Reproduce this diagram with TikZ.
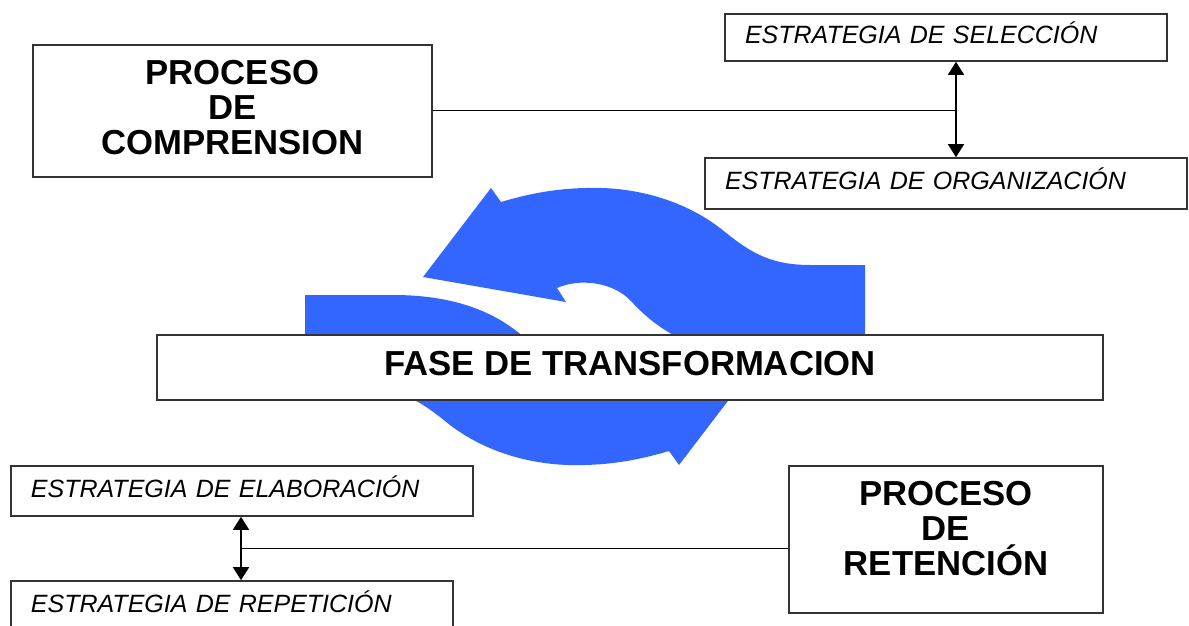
\documentclass[tikz,border=0pt]{standalone}
\usepackage{fontspec}
\setmainfont{Liberation Sans}
\usetikzlibrary{arrows.meta, positioning}
\definecolor{cycleblue}{HTML}{3366FF}

\tikzset{
  procbox/.style={draw=black!80, line width=0.8pt, fill=white, align=center,
    font=\bfseries\fontsize{17.35}{17.5}\selectfont},
  stratbox/.style={draw=black!80, line width=0.8pt, fill=white, align=left,
    inner xsep=10pt, text height=9pt, text depth=3pt,
    font=\itshape\fontsize{12.5}{15}\selectfont},
  link/.style={line width=0.5pt},
  twoway/.style={line width=0.8pt, {Triangle[length=6.5pt,width=8pt]}-{Triangle[length=6.5pt,width=8pt]}}
}

\begin{document}
\begin{tikzpicture}[x=0.5pt, y=-0.5pt]
                \useasboundingbox (0,0) rectangle (1189,626);
                % Cycle arrows
                \fill[cycleblue] (865,265) -- (810,265)
                  .. controls (770,265) and (750,252) .. (725,232)
                  .. controls (690,203) and (640,186) .. (585,188)
                  .. controls (550,189) and (525,195) .. (501,202)
                  -- (491,188) -- (423,277) -- (566,302) -- (557,288)
                  .. controls (580,278) and (612,282) .. (630,300)
                  .. controls (652,324) and (690,358) .. (777,358)
                  -- (865,358) -- cycle;
                \fill[cycleblue, rotate around={180:(585,326.5)}] (865,265) -- (810,265)
                  .. controls (770,265) and (750,252) .. (725,232)
                  .. controls (690,203) and (640,186) .. (585,188)
                  .. controls (550,189) and (525,195) .. (501,202)
                  -- (491,188) -- (423,277) -- (566,302) -- (557,288)
                  .. controls (580,278) and (612,282) .. (630,300)
                  .. controls (652,324) and (690,358) .. (777,358)
                  -- (865,358) -- cycle;
                % Processes
                \node[procbox, minimum width=199.5pt, minimum height=66pt, text depth=4pt]
                  (comp) at (232.5,111) {PROCESO\\DE\\COMPRENSION};
                \node[procbox, minimum width=157pt, minimum height=73.5pt, text depth=11pt]
                  (ret) at (946,539.5) {PROCESO\\DE\\RETENCIÓN};
                \node[procbox, minimum width=473pt, minimum height=32.5pt, text depth=4pt]
                  (fase) at (630,367.5) {FASE DE TRANSFORMACION};
                % Strategies
                \node[stratbox, text width=201pt, minimum height=23.5pt]
                  (sel) at (946,37.5) {ESTRATEGIA DE SELECCIÓN};
                \node[stratbox, text width=221pt, minimum height=25.5pt]
                  (org) at (946,183.5) {ESTRATEGIA DE ORGANIZACIÓN};
                \node[stratbox, text width=211pt, minimum height=25pt]
                  (elab) at (242,491) {ESTRATEGIA DE ELABORACIÓN};
                \node[stratbox, text width=201pt, minimum height=25pt]
                  (rep) at (232,606) {ESTRATEGIA DE REPETICIÓN};
                % Links
                \coordinate (upjoin) at (956,111);
                \coordinate (lowjoin) at (241,548);
                \draw[link] (comp.east) -- (upjoin);
                \draw[twoway] (sel.south -| upjoin) -- (org.north -| upjoin);
                \draw[link] (ret.west |- lowjoin) -- (lowjoin);
                \draw[twoway] (elab.south -| lowjoin) -- (rep.north -| lowjoin);
\end{tikzpicture}
\end{document}
